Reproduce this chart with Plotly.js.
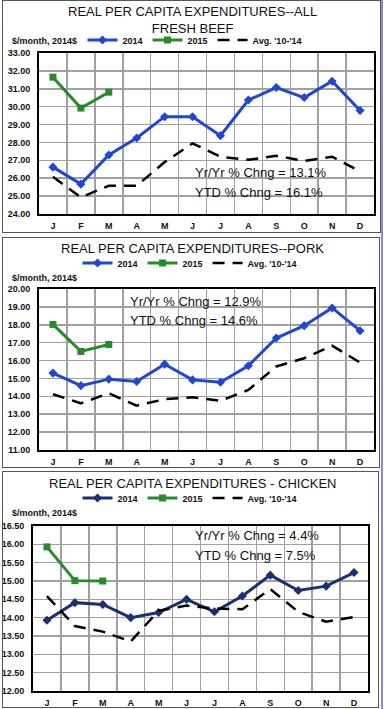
<!DOCTYPE html>
<html>
<head>
<meta charset="utf-8">
<script src="https://cdn.plot.ly/plotly-3.0.1.min.js"></script>
<style>
  html, body { margin:0; padding:0; background:#fff; }
  body { position:relative; width:389px; height:709px; overflow:hidden; }
  .plot { position:absolute; left:0; width:389px; }
  .frame { position:absolute; border:1px solid #555; pointer-events:none; box-sizing:border-box; }
  .edge { position:absolute; left:381px; top:0; width:2px; height:709px; background:#8a8ad0; }
</style>
</head>
<body>
<div id="beef" class="plot" style="top:0px;height:232px;"></div>
<div id="pork" class="plot" style="top:234px;height:234px;"></div>
<div id="chicken" class="plot" style="top:469px;height:240px;"></div>
<div class="frame" style="left:2px;top:0px;width:379px;height:233px;"></div>
<div class="frame" style="left:2px;top:237px;width:378px;height:231px;"></div>
<div class="frame" style="left:2px;top:471px;width:377px;height:237px;"></div>
<div class="edge"></div>
<script>
// ---- data ----
const months = ["J","F","M","A","M","J","J","A","S","O","N","D"];
const seriesNames = ["2014","2015","Avg. '10-'14"];

const beefTitle = "REAL PER CAPITA EXPENDITURES--ALL<br>FRESH BEEF";
const beef2014 = [26.62,25.67,27.30,28.25,29.44,29.44,28.38,30.37,31.07,30.51,31.42,29.79];
const beef2015 = [31.65,29.92,30.81];
const beefAvg  = [26.08,24.93,25.58,25.58,26.90,27.95,27.20,27.03,27.25,26.97,27.20,26.38];
const beefNotes = ["Yr/Yr % Chng = 13.1%","YTD % Chng = 16.1%"];

const porkTitle = "REAL PER CAPITA EXPENDITURES--PORK";
const pork2014 = [15.30,14.60,14.96,14.83,15.80,14.92,14.79,15.71,17.26,17.95,18.94,17.67];
const pork2015 = [18.02,16.51,16.90];
const porkAvg  = [14.12,13.61,14.17,13.48,13.84,13.95,13.75,14.36,15.67,16.13,16.83,15.89];
const porkNotes = ["Yr/Yr % Chng = 12.9%","YTD % Chng = 14.6%"];

const chickenTitle = "REAL PER CAPITA EXPENDITURES - CHICKEN";
const chicken2014 = [13.93,14.41,14.36,14.00,14.14,14.50,14.16,14.59,15.16,14.74,14.86,15.23];
const chicken2015 = [15.93,15.01,15.00];
const chickenAvg  = [14.59,13.77,13.62,13.35,14.19,14.33,14.25,14.23,14.78,14.16,13.89,14.02];
const chickenNotes = ["Yr/Yr % Chng = 4.4%","YTD % Chng = 7.5%"];

const yUnit = "$/month, 2014$";

// ---- drawing ----
const FONT = "Liberation Sans, Arial, sans-serif";
const idx = months.map((_, i) => i);

function panel(id, cfg) {
  const W = 389, H = cfg.height;
  const pw = W - cfg.l - cfg.r, ph = H - cfg.t - cfg.b;
  const px2x = px => (px - cfg.l) / pw;
  const py2y = py => (H - cfg.b - py) / ph;
  const traces = [
    { x: idx, y: cfg.s2014, name: seriesNames[0], mode: 'lines+markers',
      line: { color: cfg.blue, width: 3 }, marker: { symbol: 'diamond', size: 7, color: cfg.blue } },
    { x: idx.slice(0, cfg.s2015.length), y: cfg.s2015, name: seriesNames[1], mode: 'lines+markers',
      line: { color: '#2a8a2a', width: 3 }, marker: { symbol: 'square', size: 7, color: '#2a8a2a' } },
    { x: idx, y: cfg.avg, name: seriesNames[2], mode: 'lines',
      line: { color: '#000', width: 2.5, dash: '12px,8px' } }
  ];
  const annotations = [
    { text: cfg.title, xref: 'paper', yref: 'paper',
      x: px2x(192.5), y: py2y(cfg.titleY), xanchor: 'center', yanchor: 'middle',
      showarrow: false, font: { family: FONT, size: 13, color: '#111' } },
    { text: yUnit, xref: 'paper', yref: 'paper', x: px2x(cfg.ulx), y: py2y(cfg.uly),
      xanchor: 'left', yanchor: 'middle', showarrow: false,
      font: { family: FONT, size: 9, color: '#111', weight: 'bold' } },
    { text: cfg.notes[0], xref: 'paper', yref: 'paper', x: px2x(cfg.nx), y: py2y(cfg.ny1),
      xanchor: 'left', yanchor: 'middle', showarrow: false,
      font: { family: FONT, size: 13, color: '#111' } },
    { text: cfg.notes[1], xref: 'paper', yref: 'paper', x: px2x(cfg.nx), y: py2y(cfg.ny2),
      xanchor: 'left', yanchor: 'middle', showarrow: false,
      font: { family: FONT, size: 13, color: '#111' } }
  ];
  const layout = {
    width: W, height: H,
    margin: { l: cfg.l, r: cfg.r, t: cfg.t, b: cfg.b, pad: 0 },
    paper_bgcolor: 'rgba(0,0,0,0)', plot_bgcolor: '#fff',
    font: { family: FONT, color: '#111' },
    showlegend: true,
    legend: { orientation: 'h', x: px2x(cfg.legx), xanchor: 'center', y: py2y(cfg.legy), yanchor: 'middle',
      font: { family: FONT, size: 9, color: '#111', weight: 'bold' }, bgcolor: 'rgba(0,0,0,0)',
      itemwidth: 30, tracegroupgap: 0 },
    xaxis: { range: [-0.5, 11.5], tickmode: 'array', tickvals: idx, ticktext: months,
      showgrid: false, zeroline: false, ticks: '', ticklabelstandoff: 2,
      tickfont: { family: FONT, size: 9, color: '#111', weight: 'bold' },
      showline: true, linecolor: '#000', linewidth: 2, mirror: true,
      minor: { tickmode: 'array', tickvals: idx.slice(0, 11).map(v => v + 0.5), showgrid: true,
        gridcolor: '#a0a0a0', gridwidth: 1.5, ticks: '' } },
    yaxis: { range: cfg.yrange, dtick: cfg.dtick, tick0: cfg.yrange[0], tickformat: '.2f',
      showgrid: true, gridcolor: '#a0a0a0', gridwidth: 1.5, zeroline: false, ticks: '',
      ticklabelstandoff: 5,
      tickfont: { family: FONT, size: 9, color: '#111', weight: 'bold' },
      showline: true, linecolor: '#000', linewidth: 2, mirror: true },
    annotations: annotations
  };
  Plotly.newPlot(id, traces, layout, { staticPlot: true, displayModeBar: false });
}

panel('beef', {
  height: 232, l: 39, r: 15, t: 53, b: 18,
  title: beefTitle, titleY: 19.5,
  s2014: beef2014, s2015: beef2015, avg: beefAvg, notes: beefNotes,
  blue: '#2046d2', yrange: [24, 33], dtick: 1,
  ulx: 10, uly: 41, legx: 195, legy: 40, nx: 193, ny1: 172, ny2: 192
});
panel('pork', {
  height: 234, l: 39, r: 15, t: 55, b: 18,
  title: porkTitle, titleY: 14.5,
  s2014: pork2014, s2015: pork2015, avg: porkAvg, notes: porkNotes,
  blue: '#2046d2', yrange: [11, 20], dtick: 1,
  ulx: 10, uly: 44, legx: 190, legy: 29, nx: 128, ny1: 67, ny2: 86
});
panel('chicken', {
  height: 240, l: 33, r: 21, t: 57, b: 18,
  title: chickenTitle, titleY: 14.5,
  s2014: chicken2014, s2015: chicken2015, avg: chickenAvg, notes: chickenNotes,
  blue: '#1c2f72', yrange: [12, 16.5], dtick: 0.5,
  ulx: 10, uly: 44, legx: 190, legy: 29, nx: 193, ny1: 67, ny2: 86
});
</script>
</body>
</html>
